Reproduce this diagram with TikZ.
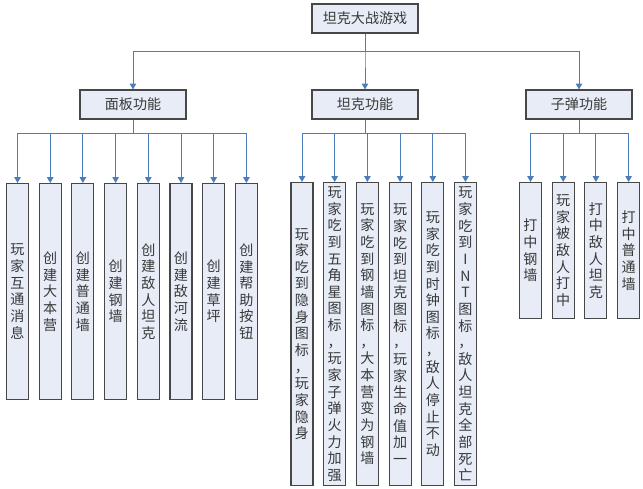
\documentclass[tikz,border=0pt]{standalone}
\usepackage{fontspec}
\newfontfamily\cjk{Noto Sans CJK SC}
\usetikzlibrary{positioning}
\usetikzlibrary{arrows.meta}

\begin{document}
\begin{tikzpicture}[x=0.03cm, y=-0.03cm]
    \colorlet{border}{black!72}
\definecolor{boxfill}{HTML}{E7ECF6}
\definecolor{link}{HTML}{4A7EBB}
\colorlet{label}{black!78}

\newcommand\pitch{32.7}
\newcommand\leaftop{183}

\tikzset{
    secondary/.style={line width=1pt},
    head box/.style={
        draw=border, fill=boxfill, secondary, rectangle,
        minimum width=3.18cm, minimum height=0.87cm,
        inner sep=0pt, text=label,
        font=\cjk\fontsize{12}{14}\selectfont,
    },
    leaf/.style={
        draw=border, fill=boxfill, secondary, rectangle,
        anchor=north, minimum width=0.66cm,
        inner sep=0pt, align=center, text=label,
        font=\cjk\fontsize{12}{14.2}\selectfont,
    },
    panel leaf/.style={leaf, minimum height=6.48cm},
    tank leaf/.style={leaf, minimum height=9.09cm},
    bullet leaf/.style={leaf, minimum height=4.08cm},
    link arrow/.style={
        draw=link, line width=0.8pt,
        -{Triangle[width=5.5pt, length=5pt]},
    },
}

\useasboundingbox (0, 0) rectangle (643, 489);

\node[head box] (game) at (365, 18.5) {坦克大战游戏};
\node[head box] (panel) at (133, 104.5) {面板功能};
\node[head box] (tank) at (365, 104.5) {坦克功能};
\node[head box] (bullet) at (579, 104.5) {子弹功能};

\foreach \part in {panel, tank, bullet}
    \draw[link arrow] (game.south) -- ++(0, 18) -| (\part.north);

% panel functions
\foreach \txt [count=\i from 0] in {
    {玩\\家\\互\\通\\消\\息},
    {创\\建\\大\\本\\营},
    {创\\建\\普\\通\\墙},
    {创\\建\\钢\\墙},
    {创\\建\\敌\\人\\坦\\克},
    {创\\建\\敌\\河\\流},
    {创\\建\\草\\坪},
    {创\\建\\帮\\助\\按\\钮}}
{
    \node[panel leaf] (panel-\i) at (17.5 + \i * \pitch, \leaftop) {\txt};
    \draw[link arrow] (panel.south) -- ++(0, 14) -| (panel-\i.north);
}

% tank functions
\foreach \txt [count=\i from 0] in {
    {玩\\家\\吃\\到\\隐\\身\\图\\标\\，\\玩\\家\\隐\\身},
    {玩\\家\\吃\\到\\五\\角\\星\\图\\标\\，\\玩\\家\\子\\弹\\火\\力\\加\\强},
    {玩\\家\\吃\\到\\钢\\墙\\图\\标\\，\\大\\本\\营\\变\\为\\钢\\墙},
    {玩\\家\\吃\\到\\坦\\克\\图\\标\\，\\玩\\家\\生\\命\\值\\加\\一},
    {玩\\家\\吃\\到\\时\\钟\\图\\标\\，\\敌\\人\\停\\止\\不\\动},
    {玩\\家\\吃\\到\\I\\N\\T\\图\\标\\，\\敌\\人\\坦\\克\\全\\部\\死\\亡}}
{
    \node[tank leaf] (tank-\i) at (302 + \i * \pitch, \leaftop - 1) {\txt};
    \draw[link arrow] (tank.south) -- ++(0, 14) -| (tank-\i.north);
}

% bullet functions
\foreach \txt [count=\i from 0] in {
    {打\\中\\钢\\墙},
    {玩\\家\\被\\敌\\人\\打\\中},
    {打\\中\\敌\\人\\坦\\克},
    {打\\中\\普\\通\\墙}}
{
    \node[bullet leaf] (bullet-\i) at (530.5 + \i * \pitch, \leaftop - 1) {\txt};
    \draw[link arrow] (bullet.south) -- ++(0, 14) -| (bullet-\i.north);
}
\end{tikzpicture}
\end{document}
